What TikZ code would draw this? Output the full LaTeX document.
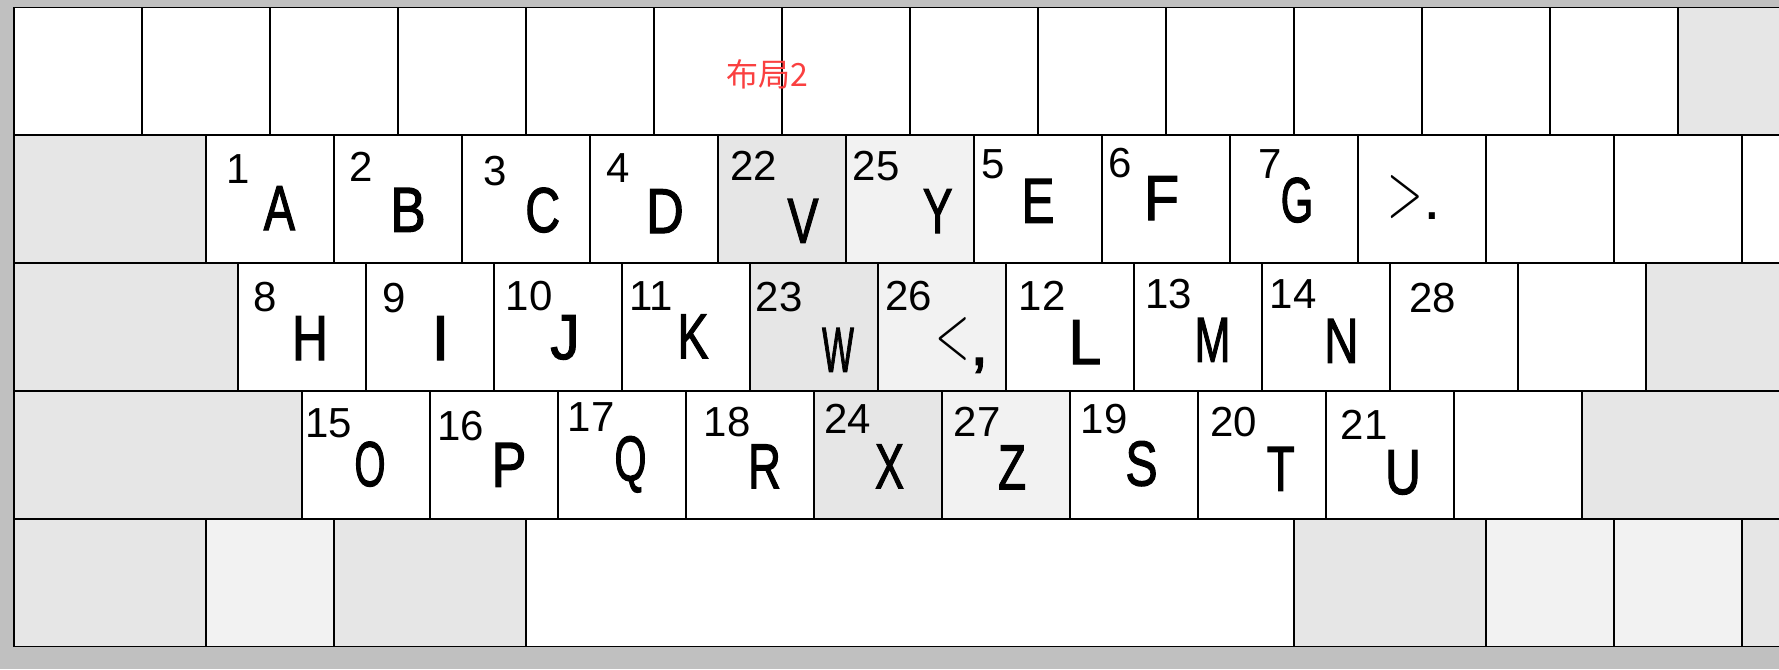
\documentclass[tikz,border=0pt]{standalone}
\usepackage{fontspec}
\usepackage{graphicx}
\newfontfamily\keyfont{Liberation Sans}
\newfontfamily\letterfont[FakeBold=2]{Liberation Sans}
\newfontfamily\cjkfont{Noto Sans CJK SC}
\definecolor{framegray}{HTML}{C0C0C0}
\definecolor{kgray}{HTML}{E6E6E6}
\definecolor{klight}{HTML}{F2F2F2}
\definecolor{titlered}{RGB}{250,64,64}
\newcommand\kx[2]{\scalebox{#1}[1]{#2}}
\begin{document}
\begin{tikzpicture}[x=1pt,y=-1pt,
  keyline/.style={draw=black,line width=1.6pt},
  kw/.style={keyline,fill=white},
  kg/.style={keyline,fill=kgray},
  kl/.style={keyline,fill=klight},
  letter/.style={inner sep=0pt,anchor=base,font=\letterfont\fontsize{63.5}{63.5}\selectfont},
  num/.style={inner sep=0pt,anchor=base,font=\keyfont\fontsize{42}{42}\selectfont},
  rowline/.style={line width=2.4pt}]
\useasboundingbox (0,0) rectangle (1779,669);
\fill[framegray] (0,0) rectangle (1779,669);
\begin{scope}
\clip (0,0) rectangle (1779,669);
% row 1
\foreach \i in {0,...,12} \path[kw] ({14+128*\i},7.5) rectangle ({142+128*\i},134.8);
\path[kg] (1678,7.5) rectangle (1806,134.8);
% row 2
\path[kg] (14,134.8) rectangle (206,262.7);
\foreach \i in {0,1,2,3,6,7,8,9,10,11,12} \path[kw] ({206+128*\i},134.8) rectangle ({334+128*\i},262.7);
\path[kg] (718,134.8) rectangle (846,262.7);
\path[kl] (846,134.8) rectangle (974,262.7);
% row 3
\path[kg] (14,262.7) rectangle (238,390.7);
\foreach \i in {0,1,2,3,6,7,8,9,10} \path[kw] ({238+128*\i},262.7) rectangle ({366+128*\i},390.7);
\path[kg] (750,262.7) rectangle (878,390.7);
\path[kl] (878,262.7) rectangle (1006,390.7);
\path[kg] (1646,262.7) rectangle (1900,390.7);
% row 4
\path[kg] (14,390.7) rectangle (302,518.8);
\foreach \i in {0,1,2,3,6,7,8,9} \path[kw] ({302+128*\i},390.7) rectangle ({430+128*\i},518.8);
\path[kg] (814,390.7) rectangle (942,518.8);
\path[kl] (942,390.7) rectangle (1070,518.8);
\path[kg] (1582,390.7) rectangle (1900,518.8);
% row 5
\path[kg] (14,518.8) rectangle (206,646.5);
\path[kl] (206,518.8) rectangle (334,646.5);
\path[kg] (334,518.8) rectangle (526,646.5);
\path[kw] (526,518.8) rectangle (1294,646.5);
\path[kg] (1294,518.8) rectangle (1486,646.5);
\path[kl] (1486,518.8) rectangle (1614,646.5);
\path[kl] (1614,518.8) rectangle (1742,646.5);
\path[kg] (1742,518.8) rectangle (1900,646.5);
% row separators
\foreach \y in {134.8,262.7,390.7,518.8} \draw[rowline] (14,\y) -- (1790,\y);
\end{scope}
% title
\node[inner sep=0pt,font=\cjkfont\fontsize{32}{32}\selectfont,text=titlered] (title) at (767.3,74.5) {布局2};
% row 2 labels
\node[num] (n1) at (238,183.3) {1};
\node[letter] (lA) at (279.4,230) {\kx{0.74}{A}};
\node[num] (n2) at (361,181.7) {2};
\node[letter] (lB) at (408,231.7) {\kx{0.84}{B}};
\node[num] (n3) at (495,185) {3};
\node[letter] (lC) at (542.7,232) {\kx{0.76}{C}};
\node[num] (n4) at (618,182.7) {4};
\node[letter] (lD) at (665,233) {\kx{0.82}{D}};
\node[num] (n22) at (753.7,180.7) {22};
\node[letter] (lV) at (803,242.7) {\kx{0.73}{V}};
\node[num] (n25) at (876,180) {25};
\node[letter] (lY) at (937.7,233) {\kx{0.70}{Y}};
\node[num] (n5) at (993,178.3) {5};
\node[letter] (lE) at (1038,222.7) {\kx{0.78}{E}};
\node[num] (n6) at (1120,177.3) {6};
\node[letter] (lF) at (1161.5,220) {\kx{0.90}{F}};
\node[num] (n7) at (1270,178.3) {7};
\node[letter] (lG) at (1297,222) {\kx{0.66}{G}};
\node[letter] (lgt) at (1414,216.3) {{\rmfamily\fontsize{78}{78}\selectfont\kx{0.6}{>}}\raisebox{-3pt}{\keyfont.}};
% row 3 labels
\node[num] (n8) at (265.6,311.7) {8};
\node[letter] (lH) at (310,360) {\kx{0.78}{H}};
\node[num] (n9) at (394,312.7) {9};
\node[letter] (lI) at (440.5,360) {\kx{1.0}{I}};
\node[num] (n10) at (529,310) {10};
\node[letter] (lJ) at (565,359) {\kx{0.92}{J}};
\node[num] (n11) at (651,310) {11};
\node[letter] (lK) at (693,358.3) {\kx{0.73}{K}};
\node[num] (n23) at (779.3,311.7) {23};
\node[letter] (lW) at (838,371.7) {\kx{0.53}{W}};
\node[num] (n26) at (908.5,310) {26};
\node[letter] (llt) at (962,358.7) {{\rmfamily\fontsize{78}{78}\selectfont\kx{0.58}{<}}\raisebox{-6pt}{,}};
\node[num] (n12) at (1042,310) {12};
\node[letter] (lL) at (1085,364) {\kx{0.92}{L}};
\node[num] (n13) at (1168.7,308.3) {13};
\node[letter] (lM) at (1212.5,361.7) {\kx{0.68}{M}};
\node[num] (n14) at (1293,308.3) {14};
\node[letter] (lN) at (1341.3,362.7) {\kx{0.75}{N}};
\node[num] (n28) at (1432.4,312.7) {28};
% row 4 labels
\node[num] (n15) at (328.5,437.3) {15};
\node[letter] (lO) at (370,486) {\kx{0.63}{O}};
\node[num] (n16) at (460.4,440.7) {16};
\node[letter] (lP) at (509,486.7) {\kx{0.82}{P}};
\node[num] (n17) at (591,431.7) {17};
\node[letter] (lQ) at (630.5,480.5) {\kx{0.65}{Q}};
\node[num] (n18) at (727,436.7) {18};
\node[letter] (lR) at (764.5,488.3) {\kx{0.72}{R}};
\node[num] (n24) at (847.8,433.3) {24};
\node[letter] (lX) at (889.5,488.3) {\kx{0.68}{X}};
\node[num] (n27) at (977,436) {27};
\node[letter] (lZ) at (1012,489.3) {\kx{0.72}{Z}};
\node[num] (n19) at (1104,433.3) {19};
\node[letter] (lS) at (1141.5,485.5) {\kx{0.76}{S}};
\node[num] (n20) at (1233.5,436) {20};
\node[letter] (lT) at (1280.7,490.7) {\kx{0.72}{T}};
\node[num] (n21) at (1364,439.3) {21};
\node[letter] (lU) at (1403,494) {\kx{0.78}{U}};
\end{tikzpicture}
\end{document}
